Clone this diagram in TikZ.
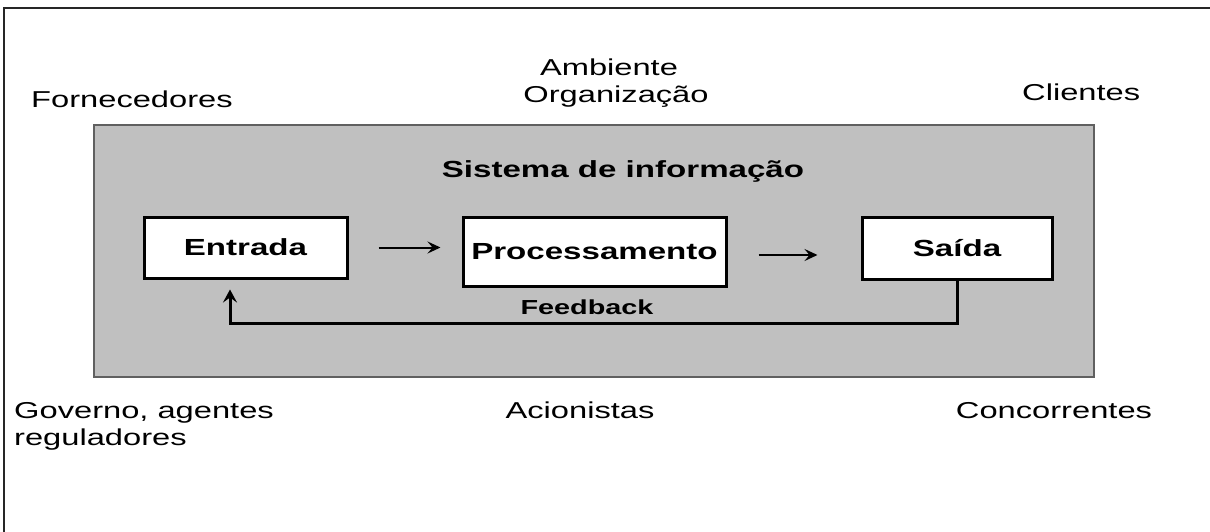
\documentclass[tikz,border=0pt]{standalone}
\usepackage{fontspec}
\setmainfont{Liberation Sans}[FakeStretch=1.42]
\usetikzlibrary{arrows.meta}
\definecolor{panelgray}{HTML}{C0C0C0}
\definecolor{paneledge}{HTML}{606060}
\tikzset{
  lbl/.style={inner sep=0pt, font=\fontsize{23}{27}\selectfont},
  boldlbl/.style={inner sep=0pt, font=\fontsize{23.3}{27}\selectfont\bfseries},
  stagebox/.style={draw=black, line width=3pt, fill=white, inner sep=0pt,
    font=\fontsize{23.3}{27}\selectfont\bfseries},
  flowarrow/.style={line width=2pt, -{Stealth[length=13pt,width=12pt,inset=5pt]}},
  fbarrow/.style={line width=3pt, -{Stealth[length=13pt,width=14pt,inset=5pt]}}
}
\begin{document}
\begin{tikzpicture}[x=1pt,y=-1pt]
\useasboundingbox (0,0) rectangle (1210,532);
% frame (left and top only)
\draw[line width=2pt, draw=black!85] (4,532) -- (4,8) -- (1210,8);
% grey panel
\node[draw=paneledge, line width=1.5pt, fill=panelgray, inner sep=0pt,
      minimum width=1000pt, minimum height=252pt] (panel) at (594,251) {};
% outside labels
\node[lbl, anchor=base west] (forn) at (31,108) {Fornecedores};
\node[lbl, anchor=base] (amb) at (609,76) {Ambiente};
\node[lbl, anchor=base] (org) at (616,103) {Organização};
\node[lbl, anchor=base west] (cli) at (1022,101) {Clientes};
\node[lbl, anchor=base west] (gov) at (14,418) {Governo, agentes};
\node[lbl, anchor=base west] (reg) at (14,445) {reguladores};
\node[lbl, anchor=base] (acio) at (580,418) {Acionistas};
\node[lbl, anchor=base] (conc) at (1054,418) {Concorrentes};
% inside
\node[boldlbl, anchor=base] (sis) at (623,178) {Sistema de informação};
\node[stagebox, minimum width=203pt, minimum height=61pt] (entrada) at (245.5,247.5) {Entrada};
\node[stagebox, minimum width=263pt, minimum height=69pt] (proc) at (594.5,251.5) {Processamento};
\node[stagebox, minimum width=190pt, minimum height=62pt] (saida) at (957,248) {Saída};
\node[inner sep=0pt, font=\fontsize{20.3}{24}\selectfont\bfseries, anchor=base] (fbtxt) at (587,314) {Feedback};
% arrows
\draw[flowarrow] ([xshift=30pt]entrada.east) -- ([xshift=-21pt]entrada.east -| proc.west);
\draw[flowarrow] ([xshift=31pt,yshift=-3.5pt]proc.east) -- ([xshift=-43pt,yshift=-3.5pt]proc.east -| saida.west);
\coordinate (fbl) at (230,323);
\draw[fbarrow] (saida.south) |- (fbl) -- ([yshift=-10pt]fbl |- entrada.south);
\end{tikzpicture}
\end{document}
